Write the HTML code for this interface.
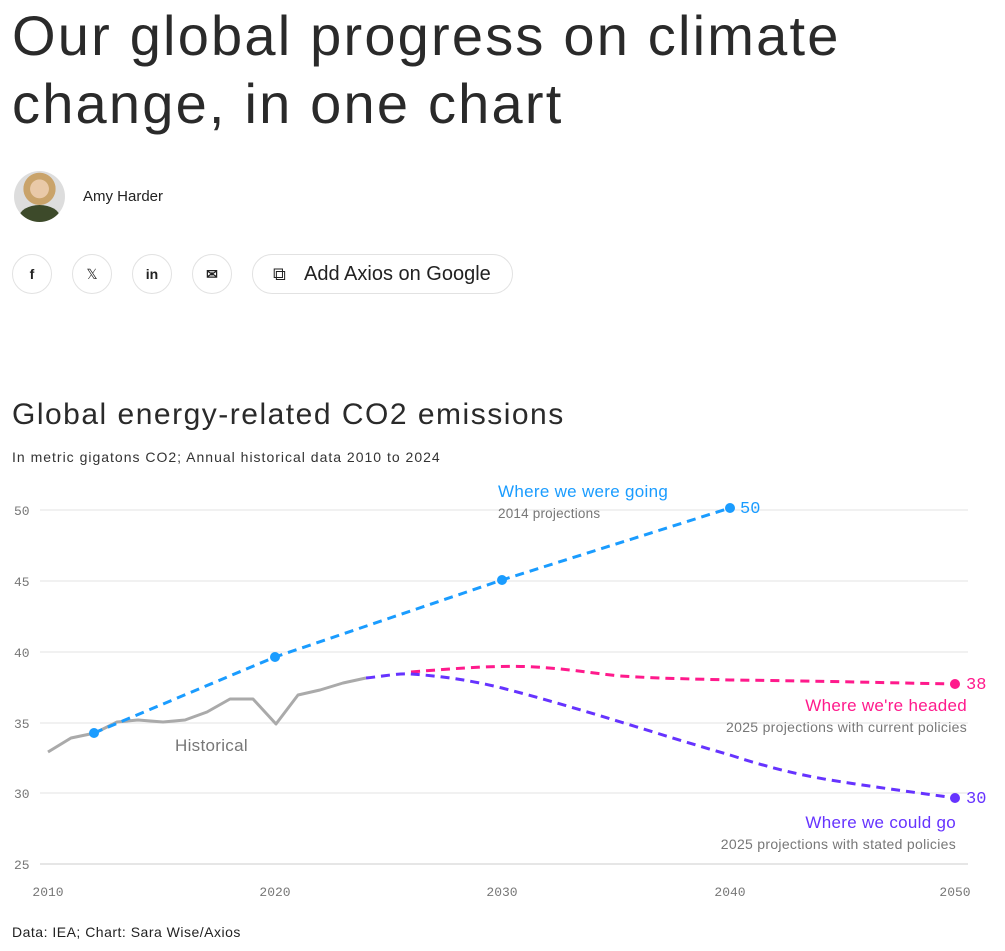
<!DOCTYPE html>
<html><head><meta charset="utf-8"><style>
body{margin:0;background:#fff;font-family:"Liberation Sans",sans-serif;color:#222;}
.wrap{position:relative;width:1005px;height:951px;overflow:hidden}
h1{position:absolute;left:12px;top:2px;margin:0;font-weight:400;font-size:56px;line-height:68px;letter-spacing:2.2px;color:#2a2a2a}
.av{position:absolute;left:14px;top:171px;width:51px;height:51px;border-radius:50%;background:radial-gradient(circle at 50% 35%,#e9c9a8 0 22%,#c9a36a 23% 38%,#ddd 39%);overflow:hidden}
.av:after{content:"";position:absolute;left:5px;top:34px;width:41px;height:25px;border-radius:50% 50% 0 0;background:#3d4a2a}
.name{position:absolute;left:83px;top:188px;font-size:15px;color:#222}
.btn{position:absolute;top:254px;width:38px;height:38px;border:1px solid #e2e2e2;border-radius:50%;text-align:center;line-height:38px;font-size:14px;font-weight:bold;color:#222}
.gb{position:absolute;left:252px;top:254px;width:259px;height:38px;border:1px solid #e2e2e2;border-radius:20px;font-size:20px;line-height:38px;color:#222}
h2{position:absolute;left:12px;top:398px;margin:0;font-weight:400;font-size:30px;letter-spacing:1.5px;color:#2a2a2a}
.sub{position:absolute;left:12px;top:449px;font-size:14px;letter-spacing:1.0px;color:#333}
.foot{position:absolute;left:12px;top:924px;font-size:14px;letter-spacing:0.5px;color:#222}
</style></head><body><div class="wrap">
<h1>Our global progress on climate<br>change, in one chart</h1>
<div class="av"></div><div class="name">Amy Harder</div>
<div class="btn" style="left:12px">f</div>
<div class="btn" style="left:72px;font-weight:normal">𝕏</div>
<div class="btn" style="left:132px">in</div>
<div class="btn" style="left:192px">✉</div>
<div class="gb"><span style="position:absolute;left:20px;top:0;font-size:18px">⧉</span><span style="position:absolute;left:51px">Add Axios on Google</span></div>
<h2>Global energy-related CO2 emissions</h2>
<div class="sub">In metric gigatons CO2; Annual historical data 2010 to 2024</div>
<svg style="position:absolute;left:0;top:0" width="1005" height="951">
<g stroke="#e3e3e3" stroke-width="1">
<line x1="40" x2="968" y1="510" y2="510"/><line x1="40" x2="968" y1="581" y2="581"/><line x1="40" x2="968" y1="652" y2="652"/><line x1="40" x2="968" y1="723" y2="723"/><line x1="40" x2="968" y1="793" y2="793"/><line x1="40" x2="968" y1="864" y2="864" stroke="#ccc"/>
</g>
<g font-family="Liberation Mono,monospace" font-size="13" fill="#777">
<text x="14" y="515">50</text><text x="14" y="586">45</text><text x="14" y="657">40</text><text x="14" y="728">35</text><text x="14" y="798">30</text><text x="14" y="869">25</text>
<g text-anchor="middle"><text x="48" y="896">2010</text><text x="275" y="896">2020</text><text x="502" y="896">2030</text><text x="730" y="896">2040</text><text x="955" y="896">2050</text></g>
</g>
<polyline fill="none" stroke="#aaa" stroke-width="3" stroke-linejoin="round" points="48,752 71,738 95,733 117,722 138,720 163,722 185,720 207,712 230,699 253,699 276,724 298,695 320,690 343,683 366,678"/>
<path fill="none" stroke="#ff1a8c" stroke-width="3" stroke-dasharray="9,6" d="M411,672 C460,668 500,665 535,667 C570,669 590,673 620,676 C670,679 700,679 730,680 C820,681 900,683 955,684"/>
<path fill="none" stroke="#6633ff" stroke-width="3" stroke-dasharray="9,6" d="M366,678 C385,676 400,673 411,674 C440,676 470,680 502,688 C580,708 660,735 730,755 C770,768 800,775 830,780 C880,788 920,793 955,798"/>
<polyline fill="none" stroke="#1a9cff" stroke-width="3" stroke-dasharray="9,6" points="94,733 275,657 502,580 730,508"/>
<g fill="#1a9cff"><circle cx="94" cy="733" r="5"/><circle cx="275" cy="657" r="5"/><circle cx="502" cy="580" r="5"/><circle cx="730" cy="508" r="5"/></g>
<circle cx="955" cy="684" r="5" fill="#ff1a8c"/><circle cx="955" cy="798" r="5" fill="#6633ff"/>
<g font-family="Liberation Mono,monospace" font-size="17"><text x="740" y="513" fill="#1a9cff">50</text><text x="966" y="689" fill="#ff1a8c">38</text><text x="966" y="803" fill="#6633ff">30</text></g>
<text x="175" y="751" font-size="17" letter-spacing="0.3" fill="#777">Historical</text>
<text x="498" y="497" font-size="17" letter-spacing="0.3" fill="#1a9cff">Where we were going</text>
<text x="498" y="518" font-size="13.5" letter-spacing="0.2" fill="#777">2014 projections</text>
<g text-anchor="end"><text x="967" y="711" font-size="17" letter-spacing="0.3" fill="#ff1a8c">Where we're headed</text>
<text x="967" y="732" font-size="14" letter-spacing="0.3" fill="#777">2025 projections with current policies</text>
<text x="956" y="828" font-size="17" letter-spacing="0.3" fill="#6633ff">Where we could go</text>
<text x="956" y="849" font-size="14" letter-spacing="0.3" fill="#777">2025 projections with stated policies</text></g>
</svg>
<div class="foot">Data: IEA; Chart: Sara Wise/Axios</div>
</div></body></html>
